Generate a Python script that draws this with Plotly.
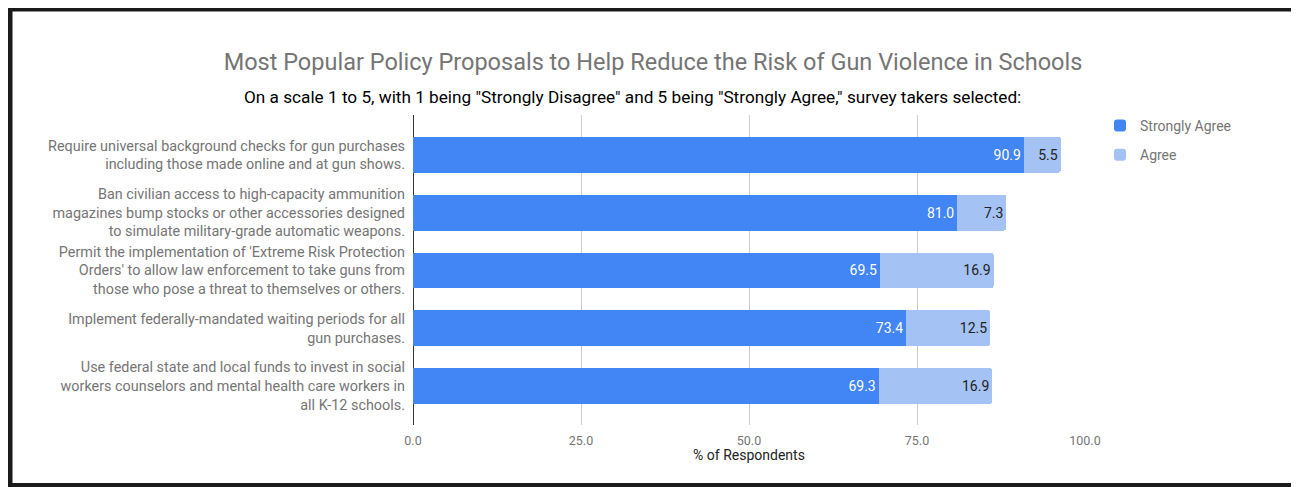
import plotly.graph_objects as go

categories = [
    "Require universal background checks for gun purchases<br>including those made online and at gun shows.",
    "Ban civilian access to high-capacity ammunition<br>magazines bump stocks or other accessories designed<br>to simulate military-grade automatic weapons.",
    "Permit the implementation of 'Extreme Risk Protection<br>Orders' to allow law enforcement to take guns from<br>those who pose a threat to themselves or others.",
    "Implement federally-mandated waiting periods for all<br>gun purchases.",
    "Use federal state and local funds to invest in social<br>workers counselors and mental health care workers in<br>all K-12 schools.",
]
strongly_agree = [90.9, 81.0, 69.5, 73.4, 69.3]
agree = [5.5, 7.3, 16.9, 12.5, 16.9]
x_ticks = [0, 25, 50, 75, 100]

# page offset (body margin) is 8px; figure pixel = page pixel - 8
OFF = 8
W, H = 1299 - OFF, 487 - OFF
L, R, T, B = 413 - OFF, 1085 - OFF, 115 - OFF, 425 - OFF  # plot area in figure pixels

def px(p):
    return (p - OFF - L) / (R - L)

def py(p):
    return (B - (p - OFF)) / (B - T)

FONT = "Roboto"

fig = go.Figure()
fig.add_trace(go.Bar(
    y=categories, x=strongly_agree, orientation="h", name="Strongly Agree",
    marker=dict(color="#4285F4", line=dict(width=0)),
    texttemplate="%{x:.1f}", textposition="inside", insidetextanchor="end",
    textfont=dict(color="#ffffff", size=14, family=FONT),
    legendgroup="a", width=0.62,
))
fig.add_trace(go.Bar(
    y=categories, x=agree, orientation="h", name="Agree",
    marker=dict(color="#A4C2F4", line=dict(width=0)),
    texttemplate="%{x:.1f}", textposition="inside", insidetextanchor="end",
    textfont=dict(color="#222222", size=14, family=FONT),
    legendgroup="b", width=0.62,
))

fig.update_layout(
    width=W, height=H, autosize=False,
    margin=dict(l=L, r=W - R, t=T, b=H - B, pad=0, autoexpand=False),
    paper_bgcolor="white", plot_bgcolor="white",
    barmode="stack", barcornerradius=3,
    font=dict(family=FONT, color="#757575", size=14),
    uniformtext=dict(minsize=14, mode="show"),
    title=dict(
        text="Most Popular Policy Proposals to Help Reduce the Risk of Gun Violence in Schools",
        x=px(653), xanchor="center", xref="paper",
        y=1 - (62 - OFF) / H, yanchor="middle", yref="container",
        font=dict(family=FONT, size=23.5, color="#757575"),
    ),
    xaxis=dict(
        range=[0, 100], tickvals=x_ticks, tickformat=".1f",
        showgrid=True, gridcolor="#cccccc", gridwidth=1,
        zeroline=True, zerolinecolor="#333333", zerolinewidth=1,
        tickfont=dict(size=12.5, color="#757575", family=FONT),
        title=dict(text="% of Respondents", font=dict(size=14, color="#222222", family=FONT), standoff=2),
        ticks="", ticklabelstandoff=6, fixedrange=True,
    ),
    yaxis=dict(
        type="category", range=[4.675, -0.69],
        showgrid=False, zeroline=False, ticks="",
        tickfont=dict(size=14.4, color="#757575", family=FONT),
        ticklabelstandoff=7,
    ),
    legend=dict(
        x=px(1100), xanchor="left", y=py(110), yanchor="top",
        font=dict(size=14, color="#757575", family=FONT),
        traceorder="grouped", tracegroupgap=8,
        bgcolor="rgba(0,0,0,0)",
    ),
    annotations=[dict(
        text='On a scale 1 to 5, with 1 being "Strongly Disagree" and 5 being "Strongly Agree," survey takers selected:',
        x=px(632), y=py(97), xref="paper", yref="paper",
        xanchor="center", yanchor="middle", showarrow=False,
        font=dict(family=FONT, size=17.2, color="#000000"),
    )],
    shapes=[dict(
        type="rect", xref="paper", yref="paper",
        x0=px(9.5), x1=px(1296.5), y0=py(8.5), y1=py(486),
        line=dict(color="#1a1a1a", width=6), layer="above",
    )],
)

fig.write_html("out.html")
